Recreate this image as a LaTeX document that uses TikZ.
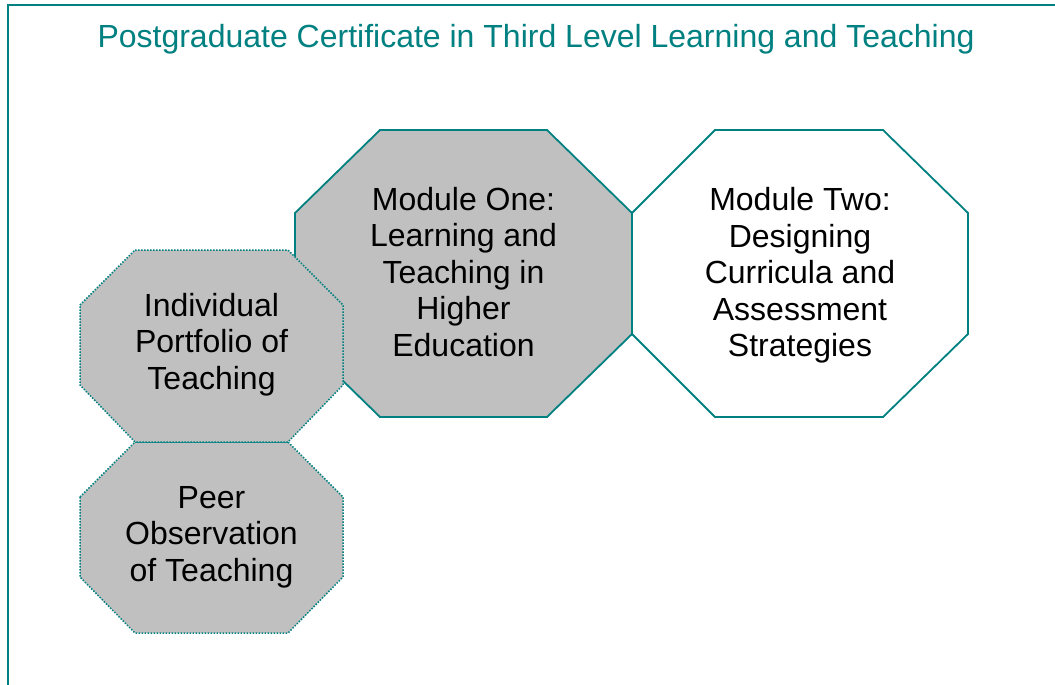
\documentclass[tikz,border=0pt]{standalone}
\usepackage{fontspec}
\setmainfont{Liberation Sans}
\definecolor{tealline}{RGB}{0,128,128}
\definecolor{octgray}{RGB}{192,192,192}
\tikzset{
  module/.style={draw=tealline, line width=1.8pt, line join=miter},
  modfill/.style={module, fill=octgray},
  extra/.style={draw=tealline, fill=octgray, line width=1.5pt, dash pattern=on 1.5pt off 1.5pt},
  label/.style={inner sep=0pt, align=center, text=black, font=\fontsize{32}{36.5}\selectfont},
  titletext/.style={inner sep=0pt, text=tealline, font=\fontsize{32}{38}\selectfont}
}
\begin{document}
\begin{tikzpicture}[x=1pt, y=-1pt]
\useasboundingbox (0,0) rectangle (1055,685);
\clip (0,0) rectangle (1055,685);
% frame
\draw[draw=tealline, line width=2pt] (7.5,5) rectangle (1070,700);
% octagons
\path[modfill] (295,213)--(380,130)--(547,130)--(632,213)--(632,334)--(547,417)--(380,417)--(295,334)--cycle;
\path[module, fill=white] (632,213)--(715,130)--(883,130)--(968,213)--(968,334)--(883,417)--(715,417)--(632,334)--cycle;
\path[extra] (80,497)--(135,442)--(288,442)--(343,497)--(343,577)--(288,633)--(135,633)--(80,577)--cycle;
\path[extra] (80,305)--(135,250)--(288,250)--(343,305)--(343,385)--(288,442)--(135,442)--(80,385)--cycle;
% texts
\node[titletext, anchor=base] (title) at (536,48) {Postgraduate Certificate in Third Level Learning and Teaching};
\node[label] (m1) at (463.5,272) {Module One:\\Learning and\\Teaching in\\Higher\\Education};
\node[label] (m2) at (800,275.5) {Module Two:\\Designing\\Curricula and\\Assessment\\Strategies};
\node[label] (portfolio) at (211.5,344.5) {Individual\\Portfolio of\\Teaching};
\node[label] (peer) at (211.5,537) {Peer\\Observation\\of Teaching};
\end{tikzpicture}
\end{document}
